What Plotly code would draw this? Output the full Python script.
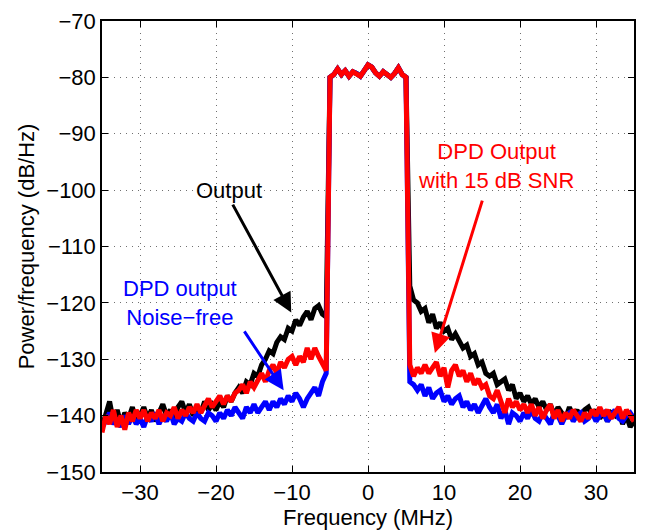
import plotly.graph_objects as go

freq = [-35.0, -34.5, -34.0, -33.5, -33.0, -32.5, -32.0, -31.5, -31.0, -30.5,
        -30.0, -29.5, -29.0, -28.5, -28.0, -27.5, -27.0, -26.5, -26.0, -25.5,
        -25.0, -24.5, -24.0, -23.5, -23.0, -22.5, -22.0, -21.5, -21.0, -20.5,
        -20.0, -19.5, -19.0, -18.5, -18.0, -17.5, -17.0, -16.5, -16.0, -15.5,
        -15.0, -14.5, -14.0, -13.5, -13.0, -12.5, -12.0, -11.5, -11.0, -10.5,
        -10.0, -9.5, -9.0, -8.5, -8.0, -7.5, -7.0, -6.5, -6.0, -5.5,
        -5.0, -4.5, -4.0, -3.5, -3.0, -2.5, -2.0, -1.5, -1.0, -0.5, 0.0,
        0.5, 1.0, 1.5, 2.0, 2.5, 3.0, 3.5, 4.0, 4.5, 5.0,
        5.5, 6.0, 6.5, 7.0, 7.5, 8.0, 8.5, 9.0, 9.5, 10.0,
        10.5, 11.0, 11.5, 12.0, 12.5, 13.0, 13.5, 14.0, 14.5, 15.0,
        15.5, 16.0, 16.5, 17.0, 17.5, 18.0, 18.5, 19.0, 19.5, 20.0,
        20.5, 21.0, 21.5, 22.0, 22.5, 23.0, 23.5, 24.0, 24.5, 25.0,
        25.5, 26.0, 26.5, 27.0, 27.5, 28.0, 28.5, 29.0, 29.5, 30.0,
        30.5, 31.0, 31.5, 32.0, 32.5, 33.0, 33.5, 34.0, 34.5, 35.0]

passband = [-80, -79.5, -78.5, -79.5, -78.8, -79.8, -79, -79.3, -79.8, -78.8, -77.8,
            -78.2, -79.2, -79.8, -79, -79.5, -80, -79.3, -78.3, -79.5, -80]

output_left = [-142, -140, -137.5, -141, -139, -141.5, -139.5, -140.5, -138.5, -141,
               -140, -138.5, -140.5, -139, -141, -139.5, -138, -140, -139, -141,
               -138.5, -137.5, -139.5, -138, -140, -138.5, -139.5, -137.5, -139, -138,
               -139, -137.5, -138.5, -136.5, -137.5, -136, -135, -136, -134, -134.5,
               -132.5, -133, -131, -130, -128.5, -129, -127, -126, -126.5, -124.5,
               -125, -123, -124, -122.5, -121.5, -123, -121, -120.5, -122, -122.5]
output_right = [-117, -119.5, -120, -121.5, -121, -123.5, -122, -124.5, -123.5, -125,
                -124.5, -126.5, -125.5, -127, -128, -127.5, -129.5, -129, -131, -130.5,
                -132.5, -133, -132.5, -134.5, -134, -133.5, -135.5, -134.5, -137, -136,
                -137.5, -136.5, -138, -137, -138.5, -137.5, -139, -138, -140, -138.5,
                -139.5, -140.5, -138.5, -140, -139, -140.5, -139, -138.5, -140, -139,
                -140.5, -139.5, -141, -139.5, -140, -139, -141.5, -140, -142, -141]

dpd_nf_left = [-142, -141, -139.5, -141.5, -140.5, -142, -140, -141.5, -140, -141.5,
               -140.5, -142, -140, -141, -139.5, -141.5, -140, -141, -139.5, -141.5,
               -140.5, -141, -139.5, -140.5, -141, -139.5, -140.5, -141, -139.5, -140,
               -141, -139.5, -140.5, -139, -140, -138.5, -139.5, -140.5, -138.5, -139.5,
               -138, -139.5, -138.5, -137.5, -139, -137.5, -138.5, -137, -138, -136.5,
               -137.5, -136, -137, -138.5, -137, -136, -135, -136.5, -134, -132.5]
dpd_nf_right = [-134, -134.5, -135.5, -134.5, -136.5, -135, -137, -136, -135.5, -137.5,
                -136.5, -138, -137, -136.5, -138.5, -137.5, -139, -138, -139.5, -138,
                -137, -138.5, -139.5, -138, -140.5, -139, -141.5, -139.5, -140, -141,
                -139.5, -140.5, -139, -140.5, -141, -139.5, -140.5, -141.5, -139.5, -140,
                -141.5, -140, -139.5, -141, -140, -139.5, -141, -140.5, -139.5, -141,
                -140, -139.5, -141, -140, -139, -140.5, -141, -140, -139.5, -140.5]

dpd_snr_left = [-143, -140, -141.5, -139, -142, -140, -142.5, -139.5, -141, -139,
                -140.5, -139, -141, -139.5, -140.5, -139, -141, -139.5, -140, -138.5,
                -140.5, -139, -140, -138.5, -139.5, -138, -139.5, -138, -137, -138.5,
                -137.5, -136.5, -138, -136.5, -137.5, -136, -135.5, -134.5, -136, -134,
                -135, -133.5, -132.5, -134, -132, -131, -132.5, -130.5, -131.5, -130,
                -129.5, -131, -129.5, -130.5, -128, -130, -128, -129.5, -131, -132]
dpd_snr_right = [-131, -133, -131.5, -132.5, -131, -132.5, -131.5, -130.5, -133, -131.5,
                 -135, -132, -131, -133, -132, -134, -132.5, -134.5, -133.5, -135,
                 -134.5, -136.5, -137, -135.5, -137.5, -139.5, -137, -138.5, -137.5, -139,
                 -138, -139.5, -138, -140, -138.5, -140.5, -139, -138, -140.5, -139,
                 -141, -139.5, -140.5, -139, -140, -141, -139.5, -140.5, -139, -140,
                 -138.5, -140, -139, -140.5, -139.5, -138.5, -140.5, -139, -140, -141]

output = output_left + passband + output_right
dpd_noise_free = dpd_nf_left + passband + dpd_nf_right
dpd_snr15 = dpd_snr_left + passband + dpd_snr_right
assert len(output) == len(freq) == len(dpd_noise_free) == len(dpd_snr15)

x_ticks = [-30, -20, -10, 0, 10, 20, 30]
y_ticks = [-150, -140, -130, -120, -110, -100, -90, -80, -70]

FONT = "Liberation Sans, Arial, Helvetica, sans-serif"

fig = go.Figure()
for name, vals, col in [("Output", output, "#000000"),
                        ("DPD output Noise-free", dpd_noise_free, "#0000FF"),
                        ("DPD Output with 15 dB SNR", dpd_snr15, "#FF0000")]:
    fig.add_trace(go.Scatter(x=freq, y=vals, mode="lines", name=name,
                             line=dict(color=col, width=5), showlegend=False))

def text_ann(x, y, t, col):
    fig.add_annotation(x=x, y=y, text=t, showarrow=False, xref="x", yref="y",
                       font=dict(family=FONT, size=22, color=col))

def arrow_ann(x, y, ax, ay, col):
    fig.add_annotation(x=x, y=y, ax=ax, ay=ay, axref="x", ayref="y", xref="x", yref="y",
                       text="", showarrow=True, arrowhead=2, arrowsize=1.3,
                       arrowwidth=3, arrowcolor=col, standoff=0)

text_ann(-18.3, -100.1, "Output", "#000000")
arrow_ann(-10.1, -121.7, -17.9, -102.3, "#000000")
text_ann(-24.8, -120.1, "DPD output<br>Noise\u2212free", "#0000FF")
arrow_ann(-11.1, -135.5, -16.4, -124.8, "#0000FF")
text_ann(16.8, -95.8, "DPD Output<br>with 15 dB SNR", "#FF0000")
arrow_ann(8.8, -128.9, 15.1, -101.6, "#FF0000")

axis_common = dict(showline=True, linecolor="black", linewidth=1.5, mirror="ticks",
                   ticks="inside", ticklen=6, tickcolor="black", tickwidth=1,
                   showgrid=True, gridcolor="#707070", griddash="1px,5px", gridwidth=1,
                   zeroline=False, ticklabeloverflow="allow",
                   tickfont=dict(family=FONT, size=22, color="black"))

fig.update_xaxes(range=[-35, 35], tickvals=x_ticks,
                 title=dict(text="Frequency (MHz)", font=dict(family=FONT, size=22, color="black"), standoff=2),
                 **axis_common)
fig.update_yaxes(range=[-150, -70], tickvals=y_ticks,
                 title=dict(text="Power/frequency (dB/Hz)", font=dict(family=FONT, size=22, color="black"), standoff=6),
                 **axis_common)

fig.update_layout(width=653, height=532, margin=dict(l=102, r=19, t=9, b=60),
                  paper_bgcolor="white", plot_bgcolor="white",
                  font=dict(family=FONT, size=22, color="black"))

fig.write_html("out.html", config={"displayModeBar": False},
               post_script="document.body.style.margin='0';")
